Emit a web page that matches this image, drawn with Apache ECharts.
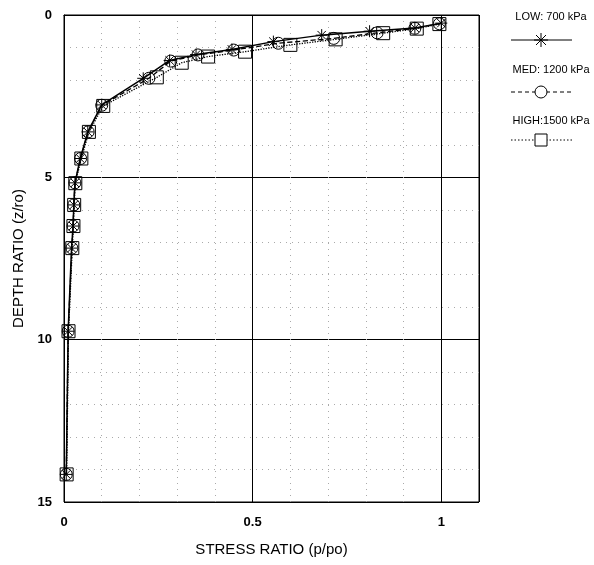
<!DOCTYPE html>
<html><head><meta charset="utf-8">
<script src="https://cdn.jsdelivr.net/npm/echarts@6/dist/echarts.min.js"></script>
<style>html,body{margin:0;padding:0;background:#fff}#c{width:594px;height:565px}</style>
</head><body><div id="c"></div>
<script>
const seriesNames = ['LOW: 700 kPa', 'MED: 1200 kPa', 'HIGH:1500 kPa'];
const xTicks = [0, 0.5, 1];
const yTicks = [0, 5, 10, 15];
const lowData = [[1.0,0.25],[0.93,0.4],[0.81,0.5],[0.683,0.62],[0.555,0.82],[0.445,1.06],[0.35,1.22],[0.28,1.4],[0.21,1.95],[0.1,2.77],[0.063,3.6],[0.043,4.42],[0.029,5.17],[0.026,5.85],[0.024,6.5],[0.02,7.18],[0.011,9.74],[0.006,14.15]];
const medData = [[0.995,0.27],[0.93,0.41],[0.83,0.55],[0.715,0.72],[0.568,0.87],[0.45,1.08],[0.355,1.23],[0.283,1.42],[0.225,1.95],[0.1,2.78],[0.064,3.6],[0.044,4.42],[0.029,5.17],[0.026,5.85],[0.024,6.5],[0.021,7.18],[0.011,9.74],[0.006,14.15]];
const highData = [[0.995,0.28],[0.935,0.42],[0.846,0.56],[0.72,0.75],[0.6,0.92],[0.48,1.13],[0.382,1.28],[0.312,1.47],[0.246,1.92],[0.104,2.8],[0.066,3.6],[0.046,4.42],[0.03,5.18],[0.027,5.85],[0.025,6.5],[0.022,7.18],[0.012,9.74],[0.007,14.15]];

const STAR = 'path://M0,-1L0,1M-1,0L1,0M-0.7,-0.7L0.7,0.7M-0.7,0.7L0.7,-0.7';
const font = 'Liberation Sans, Arial, sans-serif';
const chart = echarts.init(document.getElementById('c'));
function mk(name, data, type, symbol, size) {
  return {
    name, type: 'line', data, symbol, symbolSize: size, showSymbol: true,
    lineStyle: {color: '#000', width: type === 'solid' ? 1.5 : 1.3, type},
    itemStyle: {color: symbol === STAR ? '#000' : 'rgba(255,255,255,0)', borderColor: '#000', borderWidth: 1},
    z: 3
  };
}
const legendItems = [];
const legY = [[17, 40], [70, 92], [121, 140]];
const legStyle = ['solid', 'dashed', 'dotted'];
legY.forEach((p, i) => {
  legendItems.push({type: 'text', x: 551, y: p[0] - 6, style: {text: seriesNames[i], font: '11px ' + font, fill: '#000', textAlign: 'center'}});
  legendItems.push({type: 'line', shape: {x1: 511, y1: p[1], x2: 572, y2: p[1]}, style: {stroke: '#000', lineWidth: 1, lineDash: legStyle[i] === 'solid' ? null : (legStyle[i] === 'dashed' ? [4, 3] : [1.5, 2])}});
});
[[541,33,541,47],[534,40,548,40],[536,35,546,45],[536,45,546,35]].forEach(s => {
  legendItems.push({type: 'line', shape: {x1: s[0], y1: s[1], x2: s[2], y2: s[3]}, style: {stroke: '#000', lineWidth: 1}});
});
legendItems.push({type: 'circle', shape: {cx: 541, cy: 92, r: 6}, style: {stroke: '#000', fill: '#fff', lineWidth: 1}});
legendItems.push({type: 'rect', shape: {x: 535, y: 134, width: 12, height: 12}, style: {stroke: '#000', fill: '#fff', lineWidth: 1}});

chart.setOption({
  animation: false,
  backgroundColor: '#fff',
  grid: {left: 64, top: 15, width: 415, height: 487, show: true, borderColor: '#000', borderWidth: 1},
  xAxis: {
    type: 'value', min: 0, max: 1.1, interval: 0.5,
    name: 'STRESS RATIO (p/po)', nameLocation: 'middle', nameGap: 40,
    nameTextStyle: {fontFamily: font, fontSize: 15, color: '#000'},
    axisLine: {lineStyle: {color: '#000', width: 1}}, axisTick: {show: false},
    axisLabel: {fontFamily: font, fontSize: 13, fontWeight: 'bold', color: '#000', margin: 14, showMaxLabel: false,
      formatter: v => xTicks.some(t => Math.abs(t - v) < 1e-6) ? String(v) : ''},
    splitLine: {show: true, lineStyle: {color: '#000', width: 1}},
    minorTick: {show: false, splitNumber: 5},
    minorSplitLine: {show: true, lineStyle: {color: '#aaa', width: 1, type: [1, 5]}}
  },
  yAxis: {
    type: 'value', inverse: true, min: 0, max: 15, interval: 5,
    name: 'DEPTH RATIO (z/ro)', nameLocation: 'middle', nameGap: 36,
    nameTextStyle: {fontFamily: font, fontSize: 15, color: '#000'},
    axisLine: {lineStyle: {color: '#000', width: 1}}, axisTick: {show: false},
    axisLabel: {fontFamily: font, fontSize: 13, fontWeight: 'bold', color: '#000', margin: 12,
      formatter: v => yTicks.includes(v) ? String(v) : ''},
    splitLine: {show: true, lineStyle: {color: '#000', width: 1}},
    minorTick: {show: false, splitNumber: 5},
    minorSplitLine: {show: true, lineStyle: {color: '#aaa', width: 1, type: [1, 5]}}
  },
  series: [
    mk(seriesNames[0], lowData, 'solid', STAR, 12),
    mk(seriesNames[1], medData, 'dashed', 'circle', 12),
    mk(seriesNames[2], highData, 'dotted', 'rect', 13)
  ],
  graphic: legendItems
});
</script></body></html>
